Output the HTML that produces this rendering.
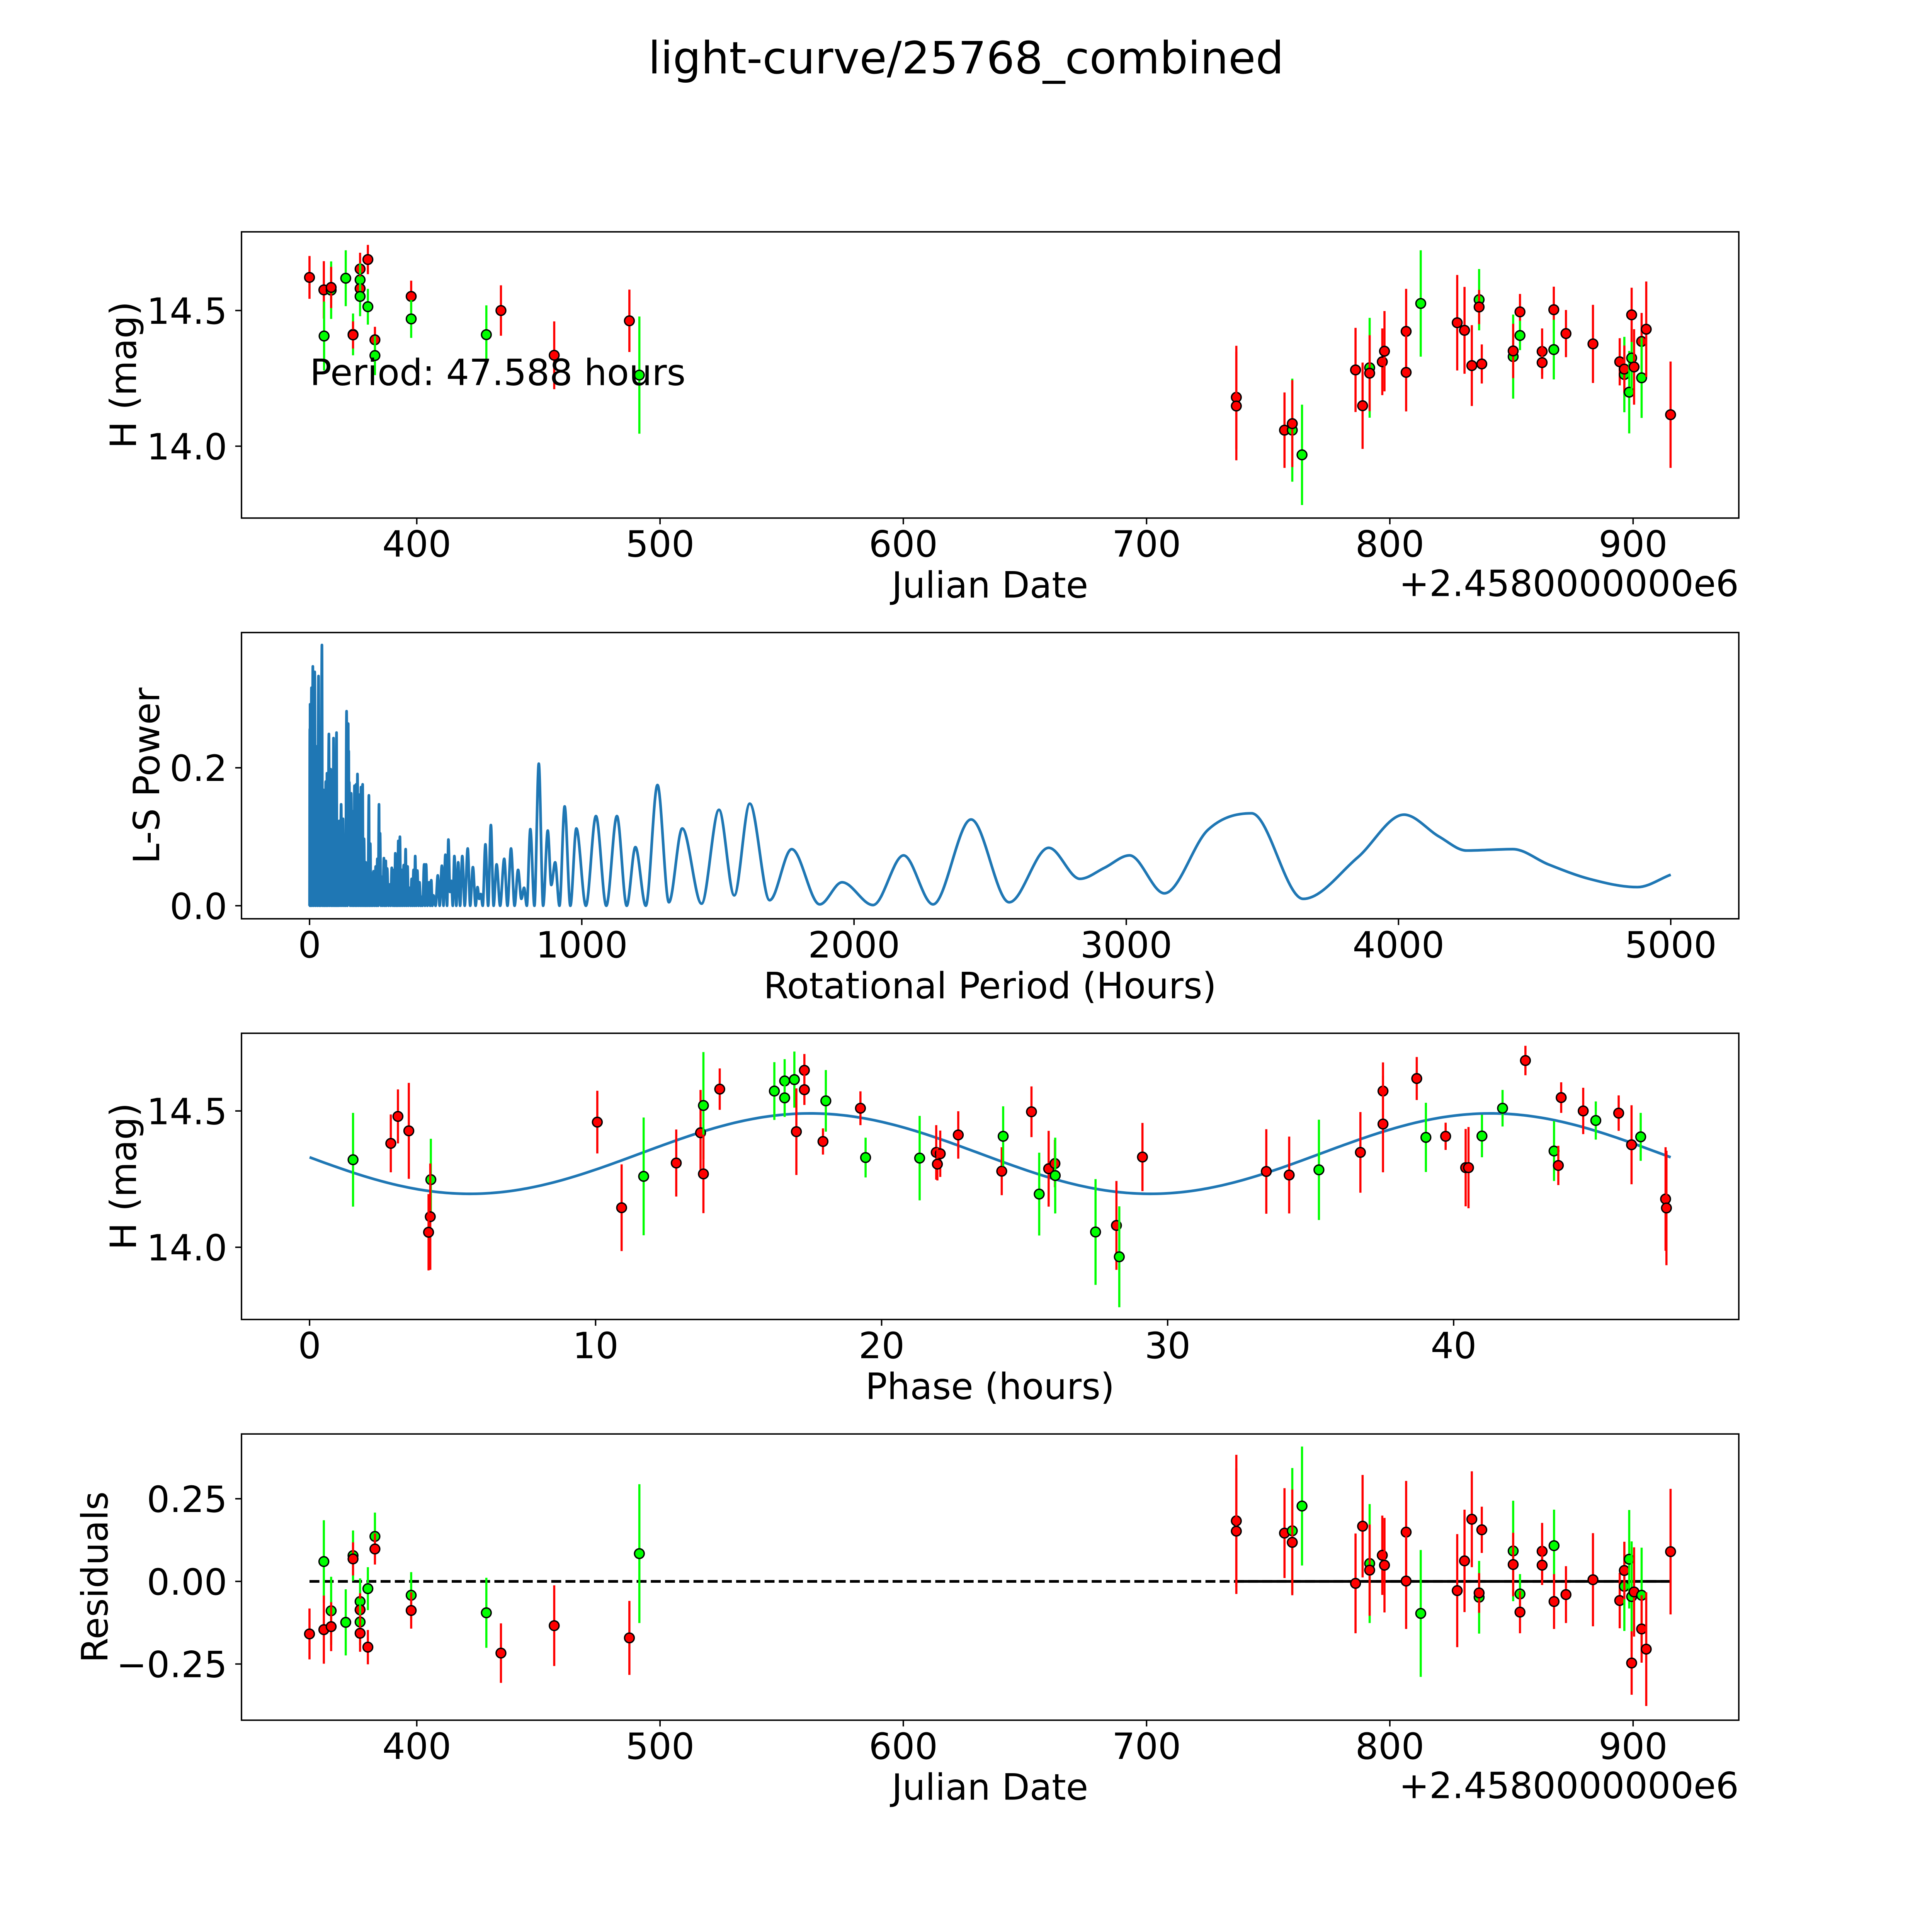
<!DOCTYPE html>
<html><head><meta charset="utf-8"><title>light-curve/25768_combined</title>
<style>html,body{margin:0;padding:0;background:#fff;overflow:hidden;width:100vw;height:100vh}svg{display:block;width:100vw;height:100vh}text{font-family:"DejaVu Sans","Liberation Sans",sans-serif;fill:#000}</style>
</head><body>
<svg id="fig" xmlns="http://www.w3.org/2000/svg" viewBox="0 0 5400 5400" preserveAspectRatio="xMidYMid meet">
<rect x="0" y="0" width="5400" height="5400" fill="#fff"/>
<text x="2700" y="205" font-size="124" text-anchor="middle">light-curve/25768_combined</text>
</svg>
<script>
// ---- Panel 1: light curve (JD offset from 2458000) ----
const lcJD=[355.9,361.8,361.9,364.8,364.8,370.8,373.8,373.8,376.7,376.7,376.7,376.7,379.9,379.9,382.8,382.8,397.7,397.7,428.6,434.6,456.5,487.4,491.5,736.9,736.9,756.7,759.9,759.9,763.9,785.9,788.8,791.7,791.7,796.9,797.8,806.7,806.7,812.7,827.7,830.7,833.7,836.7,836.7,837.8,850.7,850.7,853.5,853.5,862.6,862.6,867.4,867.4,872.4,883.5,894.5,896.4,896.4,898.4,899.4,899.4,900.4,903.5,903.5,905.4,915.4];
const lcMag=[14.622,14.576,14.406,14.575,14.585,14.619,14.412,14.410,14.653,14.613,14.581,14.552,14.688,14.514,14.392,14.334,14.552,14.469,14.411,14.50,14.335,14.462,14.262,14.180,14.148,14.059,14.059,14.083,13.968,14.281,14.149,14.289,14.269,14.311,14.35,14.423,14.272,14.526,14.455,14.427,14.297,14.54,14.513,14.303,14.33,14.351,14.495,14.408,14.349,14.308,14.503,14.356,14.415,14.377,14.311,14.264,14.284,14.199,14.325,14.484,14.292,14.386,14.252,14.431,14.116];
const lcErr=[0.079,0.106,0.127,0.106,0.076,0.103,0.077,0.05,0.06,0.06,0.05,0.073,0.054,0.066,0.048,0.072,0.058,0.07,0.108,0.093,0.125,0.115,0.216,0.19,0.2,0.139,0.19,0.16,0.185,0.155,0.159,0.184,0.14,0.123,0.148,0.157,0.144,0.196,0.176,0.16,0.149,0.113,0.063,0.072,0.155,0.1,0.066,0.054,0.085,0.06,0.085,0.11,0.087,0.144,0.087,0.139,0.087,0.152,0.116,0.1,0.139,0.105,0.148,0.176,0.196];
const lcBand=["r","r","g","g","r","g","g","r","r","g","r","g","r","g","r","g","r","g","g","r","r","r","g","r","r","r","g","r","g","r","r","g","r","r","r","r","r","g","r","r","r","g","r","r","g","r","r","g","r","r","r","g","r","r","r","g","r","g","g","r","r","r","g","r","r"];

// ---- Panel 2: Lomb-Scargle periodogram ----
const lsPeriod=[0,1,1.5,2,4,7,9,12,15,19,22,26,29,33,36,38,41,45.4,48,51,53,55.5,57,59.5,62,64,67,71,74,77.5,81,84,86,88,91,94,96,99,101,104,106,109,112,116,119,123,126,129,132,136,139,142,143,144,145,146,149,153,156,160,162,165,168,171,173,176,179,183,186,189,192,195,197,200,203,206,208,211,214,218,220,223,226,229,232,235,239,243,246,249,252,255,257,259,262,266,269,273,276,280,282,285,290,295,298,302,306,310,312,315,318,320,323,326,329,332,335,339,342,346,349,353,356,360,363,367,371,375,378,382,385,388,392,396,400,404,408,411,415,421,424,428,433,439,443,447,451,455,463,471,478,486,492,499,505,510,516,521,526,532,539,546,553,561,570,581,590,600,610,617,623,629,636,646,656,666,676,687,700,715,727,740,753,766,778,788,798,811,826,842,858,875,888,902,918,937,958,980,1015,1052,1090,1129,1165,1197,1235,1278,1320,1369,1440,1504,1560,1617,1690,1771,1874,1956,2070,2182,2290,2430,2570,2715,2830,2920,3012,3140,3300,3460,3650,3850,4020,4150,4250,4420,4550,4700,4878,5000];
const lsPower=[0,0.256,0,0.292,0,0.316,0,0.347,0,0.339,0,0.231,0,0.333,0,0.208,0,0.378,0,0.168,0,0.150,0,0.18,0,0.192,0,0.249,0,0.198,0,0.123,0,0.243,0,0.168,0,0.251,0,0.10,0,0.123,0,0.147,0,0.126,0,0.087,0,0.282,0,0.264,0.1,0.224,0.05,0.179,0,0.163,0,0.137,0,0.174,0,0.176,0,0.191,0,0.161,0,0.172,0,0.176,0,0.097,0,0.063,0,0.055,0,0.160,0,0.09,0,0.047,0,0.05,0,0.057,0,0.068,0,0.147,0.01,0.105,0,0.042,0,0.069,0,0.065,0,0.054,0,0.031,0,0.055,0,0.052,0,0.076,0,0.036,0,0.094,0,0.10,0,0.052,0,0.059,0,0.082,0,0.057,0,0.026,0,0.039,0,0.052,0,0.072,0,0.051,0,0.034,0,0.013,0,0.06,0,0.06,0,0.034,0,0.037,0,0.015,0,0.044,0,0.058,0,0.074,0,0.096,0.02,0.036,0,0.072,0,0.063,0,0.072,0,0.083,0,0.056,0,0.027,0.01,0.017,0,0.089,0,0.117,0,0.060,0,0.068,0,0.083,0,0.052,0.01,0.026,0,0.111,0,0.206,0,0.109,0.030,0.063,0,0.144,0,0.112,0,0.13,0,0.13,0,0.085,0,0.175,0.005,0.112,0.003,0.139,0.015,0.148,0.008,0.082,0.002,0.034,0.001,0.073,0.002,0.125,0.005,0.084,0.039,0.055,0.073,0.018,0.11,0.134,0.01,0.07,0.132,0.1,0.08,0.082,0.06,0.039,0.027,0.045];

// ---- Panel 3: phased light curve ----
const phHours=[1.52,2.84,3.09,3.47,4.24,4.22,4.16,10.06,10.91,11.68,12.82,13.67,13.77,13.77,14.34,16.25,16.61,16.61,16.95,17.3,17.3,17.02,17.95,18.05,19.26,19.44,21.33,21.91,22.05,21.95,22.68,24.2,24.25,25.24,25.84,26.06,26.07,25.51,27.48,28.21,28.31,29.12,33.45,34.25,35.29,36.74,37.53,37.53,38.71,39.03,39.72,40.42,40.52,40.99,41.71,42.51,43.51,43.66,43.76,44.53,44.97,45.77,46.22,46.54,47.41,47.44];
const phMag=[14.321,14.381,14.48,14.427,14.248,14.112,14.055,14.459,14.145,14.26,14.309,14.42,14.52,14.269,14.58,14.573,14.61,14.548,14.615,14.649,14.578,14.424,14.388,14.537,14.51,14.329,14.327,14.348,14.343,14.305,14.412,14.279,14.407,14.497,14.288,14.307,14.263,14.195,14.056,14.08,13.965,14.331,14.278,14.265,14.284,14.348,14.573,14.452,14.619,14.403,14.407,14.292,14.292,14.408,14.51,14.685,14.353,14.3,14.549,14.5,14.465,14.492,14.376,14.405,14.177,14.144];
const phErr=[0.172,0.106,0.099,0.176,0.15,0.195,0.14,0.115,0.159,0.216,0.123,0.157,0.196,0.144,0.076,0.106,0.08,0.07,0.103,0.06,0.056,0.159,0.048,0.113,0.062,0.073,0.155,0.1,0.085,0.06,0.087,0.088,0.11,0.093,0.139,0.087,0.139,0.152,0.194,0.163,0.185,0.125,0.155,0.141,0.184,0.148,0.105,0.177,0.079,0.127,0.05,0.142,0.149,0.078,0.067,0.054,0.11,0.072,0.056,0.085,0.07,0.065,0.145,0.088,0.19,0.21];
const phBand=["g","r","r","r","g","r","r","r","r","g","r","r","g","r","r","g","g","g","g","r","r","r","r","g","r","g","g","r","r","r","r","r","g","r","r","r","g","g","g","r","g","r","r","r","g","r","r","r","r","g","r","r","r","g","g","r","g","r","r","r","g","r","r","g","r","r"];
// fitted model: mean, amplitude, peak phase, model period (hours)
const modelParams=[14.3435,0.1475,17.5,23.794];
const foldPeriod=47.588;

// ---- Panel 4: residuals ----
const rsJD=[355.9,361.8,361.8,364.8,364.8,370.8,373.8,373.8,376.7,376.7,376.7,376.7,379.9,379.9,382.8,382.8,397.7,397.7,428.6,434.6,456.5,487.4,491.5,736.9,736.9,756.7,759.9,759.9,763.9,785.9,788.8,791.7,791.7,796.9,797.8,806.7,806.7,812.7,827.7,830.7,833.7,836.7,836.7,837.8,850.7,850.7,853.5,853.5,862.6,862.6,867.5,867.5,872.4,883.5,894.5,896.4,896.4,898.4,899.4,899.4,900.4,903.5,903.5,905.4,915.4];
const rsVal=[-0.159,0.060,-0.146,-0.089,-0.137,-0.124,0.078,0.068,-0.061,-0.086,-0.123,-0.157,-0.022,-0.199,0.136,0.098,-0.042,-0.088,-0.095,-0.217,-0.134,-0.171,0.084,0.183,0.152,0.146,0.153,0.118,0.228,-0.006,0.167,0.054,0.034,0.079,0.049,0.149,0.001,-0.097,-0.028,0.062,0.188,-0.048,-0.035,0.156,0.092,0.051,-0.038,-0.093,0.091,0.049,0.108,-0.061,-0.04,0.005,-0.058,-0.015,0.033,0.067,-0.046,-0.247,-0.032,-0.042,-0.144,-0.205,0.09];
const rsErr=[0.077,0.125,0.103,0.103,0.074,0.1,0.076,0.05,0.07,0.05,0.07,0.056,0.065,0.052,0.072,0.047,0.07,0.055,0.106,0.09,0.122,0.112,0.21,0.2,0.19,0.136,0.19,0.16,0.18,0.151,0.155,0.18,0.138,0.12,0.143,0.155,0.145,0.192,0.171,0.155,0.145,0.11,0.06,0.07,0.152,0.096,0.06,0.064,0.086,0.06,0.109,0.083,0.086,0.141,0.084,0.135,0.087,0.149,0.167,0.096,0.135,0.144,0.102,0.172,0.19];
const rsBand=["r","g","r","g","r","g","g","r","g","r","g","r","g","r","g","r","g","r","g","r","r","r","g","r","r","r","g","r","g","r","r","g","r","r","r","r","r","g","r","r","r","g","r","r","g","r","g","r","r","r","g","r","r","r","r","g","r","g","g","r","r","g","r","r","r"];

// tick labels
const jdTicks=[400,500,600,700,800,900];
const magTicks=[14.0,14.5];
const lsXTicks=[0,1000,2000,3000,4000,5000];
const lsYTicks=[0.0,0.2];
const phXTicks=[0,10,20,30,40];
const rsYTicks=[-0.25,0,0.25];
const rsYTickLabels=["\u22120.25","0.00","0.25"];

const NS="http://www.w3.org/2000/svg";
const svg=document.getElementById("fig");
const AX_L=675, AX_R=4860, AX_H=800, FS=101;
function mk(tag,attrs,parent){const e=document.createElementNS(NS,tag);for(const k in attrs)e.setAttribute(k,attrs[k]);(parent||svg).appendChild(e);return e;}
function makeAxes(top,xd,yd){
  return {top:top,bot:top+AX_H,
    x:v=>AX_L+(v-xd[0])/(xd[1]-xd[0])*(AX_R-AX_L),
    y:v=>top+AX_H-(v-yd[0])/(yd[1]-yd[0])*AX_H};
}
function frame(ax,name){
  const g=mk("g",{});
  
  
  const r=mk("rect",{x:AX_L,y:ax.top,width:AX_R-AX_L,height:AX_H,fill:"none",stroke:"#000","stroke-width":4},g);
  
  
  return g;
}
function xTicks(ax,vals,labels,name){
  const g=mk("g",{});
  
  
  vals.forEach((v,i)=>{const X=ax.x(v);
    mk("line",{x1:X,x2:X,y1:ax.bot,y2:ax.bot+17.5,stroke:"#000","stroke-width":4},g);
    const t=mk("text",{x:X,y:ax.bot+108,"font-size":FS,"text-anchor":"middle"},g);t.textContent=labels[i];
    
    });
}
function yTicks(ax,vals,labels,name){
  const g=mk("g",{});
  
  
  vals.forEach((v,i)=>{const Y=ax.y(v);
    mk("line",{x1:AX_L,x2:AX_L-17.5,y1:Y,y2:Y,stroke:"#000","stroke-width":4},g);
    const t=mk("text",{x:635,y:Y+37,"font-size":FS,"text-anchor":"end"},g);t.textContent=labels[i];
    
    });
}
function label(txt,x,y,rot,name,anchor){
  const t=mk("text",{x:x,y:y,"font-size":FS,"text-anchor":anchor||"middle"});
  if(rot)t.setAttribute("transform","rotate(-90 "+x+" "+y+")");
  t.textContent=txt;
  
  
  return t;
}
const COL={r:"#ff0000",g:"#00ff00"};
function errPoints(ax,xs,ys,es,bs,name){
  const g=mk("g",{});
  
  
  for(let i=0;i<xs.length;i++){
    const X=ax.x(xs[i]),Y=ax.y(ys[i]);
    const l=mk("line",{x1:X,x2:X,y1:ax.y(ys[i]+es[i]),y2:ax.y(ys[i]-es[i]),stroke:COL[bs[i]],"stroke-width":6},g);
    
    
    const c=mk("circle",{cx:X,cy:Y,r:13.5,fill:COL[bs[i]],stroke:"#000","stroke-width":3.8},g);
    
    
  }
}
function monotonePath(P){
  const n=P.length;if(n<2)return "";
  const d=[],m=[];
  for(let i=0;i<n-1;i++){const dx=P[i+1][0]-P[i][0];d.push(dx===0?0:(P[i+1][1]-P[i][1])/dx);}
  m[0]=d[0];m[n-1]=d[n-2];
  for(let i=1;i<n-1;i++){m[i]=(d[i-1]*d[i]<=0)?0:(d[i-1]+d[i])/2;}
  for(let i=0;i<n-1;i++){if(d[i]===0){m[i]=0;m[i+1]=0;continue;}const a=m[i]/d[i],b=m[i+1]/d[i],s=a*a+b*b;if(s>9){const t=3/Math.sqrt(s);m[i]=t*a*d[i];m[i+1]=t*b*d[i];}}
  let s="M"+P[0][0].toFixed(1)+","+P[0][1].toFixed(1);
  for(let i=0;i<n-1;i++){const h=(P[i+1][0]-P[i][0])/3;
    s+="C"+(P[i][0]+h).toFixed(1)+","+(P[i][1]+m[i]*h).toFixed(1)+" "+(P[i+1][0]-h).toFixed(1)+","+(P[i+1][1]-m[i+1]*h).toFixed(1)+" "+P[i+1][0].toFixed(1)+","+P[i+1][1].toFixed(1);}
  return s;
}

// Panel 1
const ax1=makeAxes(648,[327.95,943.45],[13.735,14.79]);
frame(ax1,"light-curve-axes");
errPoints(ax1,lcJD,lcMag,lcErr,lcBand,"light-curve-points");
xTicks(ax1,jdTicks,jdTicks.map(String),"light-curve-x-ticks");
yTicks(ax1,magTicks,magTicks.map(v=>v.toFixed(1)),"light-curve-y-ticks");
label("Julian Date",2767,1670,false,"light-curve-x-axis-title");
label("+2.4580000000e6",4860,1666,false,"light-curve-x-offset","end");
label("H (mag)",380,1048,true,"light-curve-y-axis-title");
label("Period: 47.588 hours",866,1076,false,"period-annotation","start");

// Panel 2
const ax2=makeAxes(1768,[-250,5250],[-0.0189,0.396]);
frame(ax2,"periodogram-axes");
const lsP=lsPeriod.map((p,i)=>[ax2.x(p),ax2.y(lsPower[i])]);
const lsPath=mk("path",{d:monotonePath(lsP),fill:"none",stroke:"#1f77b4","stroke-width":7.5,"stroke-linejoin":"round","stroke-linecap":"butt"});


xTicks(ax2,lsXTicks,lsXTicks.map(String),"periodogram-x-ticks");
yTicks(ax2,lsYTicks,lsYTicks.map(v=>v.toFixed(1)),"periodogram-y-ticks");
label("Rotational Period (Hours)",2767,2790,false,"periodogram-x-axis-title");
label("L-S Power",445,2168,true,"periodogram-y-axis-title");

// Panel 3
const ax3=makeAxes(2888,[-2.38,49.97],[13.735,14.785]);
frame(ax3,"phase-axes");
const mp=[];
for(let k=0;k<=400;k++){const ph=foldPeriod*k/400;
  const mv=modelParams[0]+modelParams[1]*Math.cos(2*Math.PI*(ph-modelParams[2])/modelParams[3]);
  mp.push((k?"L":"M")+ax3.x(ph).toFixed(1)+","+ax3.y(mv).toFixed(1));}
const mpath=mk("path",{d:mp.join(""),fill:"none",stroke:"#1f77b4","stroke-width":7.5});


errPoints(ax3,phHours,phMag,phErr,phBand,"phase-points");
xTicks(ax3,phXTicks,phXTicks.map(String),"phase-x-ticks");
yTicks(ax3,magTicks,magTicks.map(v=>v.toFixed(1)),"phase-y-ticks");
label("Phase (hours)",2767,3910,false,"phase-x-axis-title");
label("H (mag)",380,3288,true,"phase-y-axis-title");

// Panel 4
const ax4=makeAxes(4008,[327.95,943.45],[-0.42,0.446]);
frame(ax4,"residuals-axes");
const dz=mk("line",{x1:ax4.x(lcJD[0]),x2:ax4.x(lcJD[lcJD.length-1]),y1:ax4.y(0),y2:ax4.y(0),stroke:"#000","stroke-width":7.5,"stroke-dasharray":"27.75 12"});


const sz=mk("line",{x1:ax4.x(736.9),x2:ax4.x(lcJD[lcJD.length-1]),y1:ax4.y(0),y2:ax4.y(0),stroke:"#000","stroke-width":7.5});


errPoints(ax4,rsJD,rsVal,rsErr,rsBand,"residual-points");
xTicks(ax4,jdTicks,jdTicks.map(String),"residuals-x-ticks");
yTicks(ax4,rsYTicks,rsYTickLabels,"residuals-y-ticks");
label("Julian Date",2767,5030,false,"residuals-x-axis-title");
label("+2.4580000000e6",4860,5026,false,"residuals-x-offset","end");
label("Residuals",300,4408,true,"residuals-y-axis-title");
</script>
</body></html>
